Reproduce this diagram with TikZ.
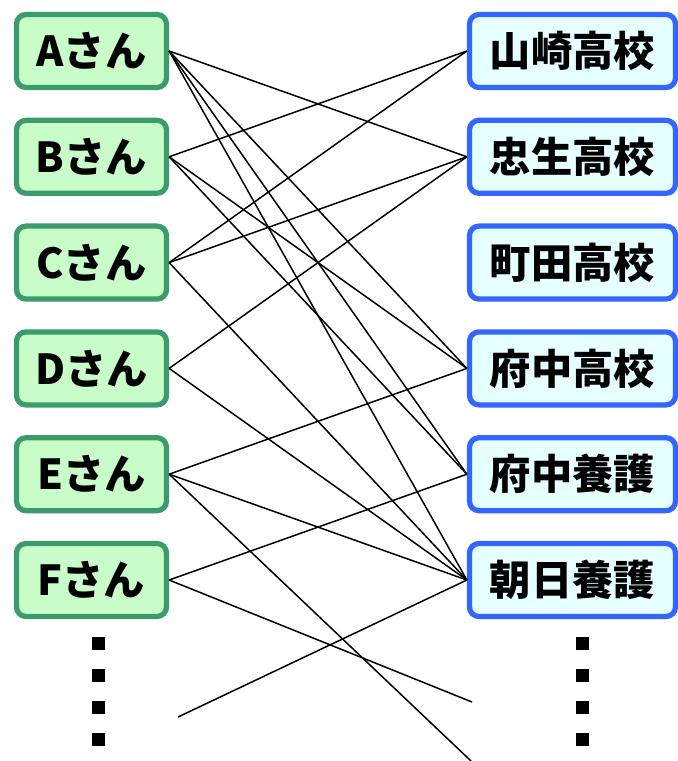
\documentclass[tikz,border=0pt]{standalone}
\usepackage{fontspec}
\newfontfamily\jpfont{Noto Sans CJK JP}
\definecolor{pborder}{RGB}{59,155,107}
\definecolor{pfill}{RGB}{200,252,200}
\definecolor{sborder}{RGB}{51,102,255}
\definecolor{sfill}{RGB}{230,255,255}
\tikzset{
  person/.style={draw=pborder, fill=pfill, line width=3, rounded corners=0.19cm,
    minimum width=150*0.02cm, minimum height=73*0.02cm, inner sep=0pt,
    font=\jpfont\bfseries\fontsize{23.5}{23.5}\selectfont},
  school/.style={person, draw=sborder, fill=sfill, minimum width=206*0.02cm},
  wish/.style={line width=0.85pt},
  more/.style={fill=black}
}
\begin{document}
\begin{tikzpicture}[x=0.02cm, y=-0.02cm]
\useasboundingbox (0,0) rectangle (677,761);
\foreach \n/\t [count=\i] in {A/Aさん, B/Bさん, C/Cさん, D/Dさん, E/Eさん, F/Fさん}
  \node[person] (\n) at (91.5, {51+105.8*(\i-1)}) {\t};
\foreach \n/\t [count=\i] in {yam/山崎高校, tad/忠生高校, mac/町田高校, fuk/府中高校, fuy/府中養護, asa/朝日養護}
  \node[school] (\n) at (572.5, {51+105.8*(\i-1)}) {\t};
\coordinate (endL) at (178,717);
\coordinate (endF) at (472,702);
\coordinate (endE) at (471,761);
\foreach \a/\b in {A/tad, A/fuk, A/fuy, A/asa, B/yam, B/fuk, B/fuy, C/yam, C/tad, C/asa,
                   D/tad, D/asa, E/fuk, E/asa, F/fuy}
  \draw[wish] (\a.east) -- (\b.west);
\draw[wish] (E.east) -- (endE);
\draw[wish] (F.east) -- (endF);
\draw[wish] (asa.west) -- (endL);
\foreach \y in {643,675,707,739} {
  \fill[more] (92,\y-6.5) rectangle ++(13,13);
  \fill[more] (575.5,\y-6.5) rectangle ++(13,13);
}
\end{tikzpicture}
\end{document}
